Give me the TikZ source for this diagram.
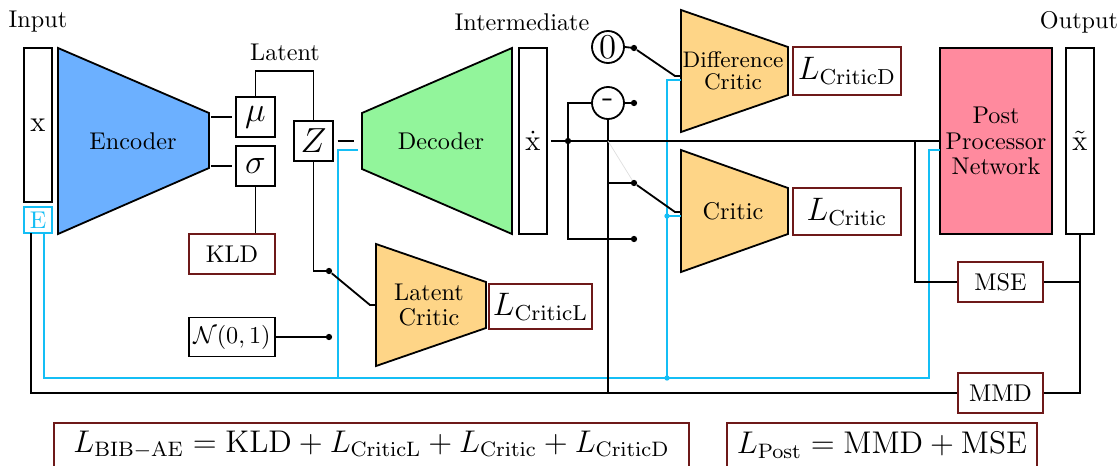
\documentclass[tikz,border=0pt]{standalone}
\usepackage{amsmath}
\usepackage{graphicx}
\definecolor{encblue}{RGB}{108,176,255}
\definecolor{decgreen}{RGB}{146,245,155}
\definecolor{critorange}{RGB}{254,213,135}
\definecolor{postpink}{RGB}{255,138,158}
\definecolor{lossred}{RGB}{110,25,25}
\definecolor{ecyan}{RGB}{20,190,245}
\newcommand\lossL[1]{\scalebox{1.12}{\large $#1$}}
\newcommand\lossF[1]{\scalebox{1.08}{\large $#1$}}
\begin{document}
\begin{tikzpicture}[x=0.4132pt,y=-0.4132pt,line width=0.75pt,
  bw/.style={minimum width={#1*0.4132pt}},
  bh/.style={minimum height={#1*0.4132pt}},
  box/.style={draw=black,line width=0.75pt,inner sep=0pt,fill=white},
  lossbox/.style={draw=lossred,line width=0.75pt,inner sep=0pt,fill=white},
  lbl/.style={inner sep=0pt},
  cy/.style={draw=ecyan,line width=0.7pt},
  trap/.style={draw=black,line width=0.75pt,line join=miter},
  ttxt/.style={align=center,inner sep=0pt,font={\fontsize{10}{10.4}\selectfont}},
  sop/.style={circle,draw=black,line width=0.75pt,inner sep=0pt,minimum size={32*0.4132pt}}]
\useasboundingbox (0,0) rectangle (1120,465);

% labels
\node[lbl] (inp) at (38,22) {Input};
\node[lbl] (lat) at (285,52) {Latent};
\node[lbl] (intm) at (522,22) {Intermediate};
\node[lbl] (outp) at (1079,22) {Output};

% trapezoids
\coordinate (enc1) at (58,48); \coordinate (enc2) at (209,113);
\coordinate (enc3) at (209,168); \coordinate (enc4) at (58,234);
\draw[trap,fill=encblue] (enc1) -- (enc2) -- (enc3) -- (enc4) -- cycle;
\node[ttxt] (enctxt) at (133,141) {Encoder};

\coordinate (dec1) at (362,113); \coordinate (dec2) at (512,48);
\coordinate (dec3) at (512,234); \coordinate (dec4) at (362,169);
\draw[trap,fill=decgreen] (dec1) -- (dec2) -- (dec3) -- (dec4) -- cycle;
\node[ttxt] (dectxt) at (441,141) {Decoder};

\coordinate (lc1) at (376,244); \coordinate (lc2) at (486,282);
\coordinate (lc3) at (486,328); \coordinate (lc4) at (376,366);
\draw[trap,fill=critorange] (lc1) -- (lc2) -- (lc3) -- (lc4) -- cycle;
\node[ttxt] (lctxt) at (429,305) {Latent\\Critic};

\coordinate (dc1) at (681,10); \coordinate (dc2) at (788,47);
\coordinate (dc3) at (788,95); \coordinate (dc4) at (681,132);
\draw[trap,fill=critorange] (dc1) -- (dc2) -- (dc3) -- (dc4) -- cycle;
\node[ttxt,font={\fontsize{9.3}{9}\selectfont}] (dctxt) at (733,71) {Difference\\Critic};

\coordinate (cr1) at (681,150); \coordinate (cr2) at (788,188);
\coordinate (cr3) at (788,234); \coordinate (cr4) at (681,272);
\draw[trap,fill=critorange] (cr1) -- (cr2) -- (cr3) -- (cr4) -- cycle;
\node[ttxt] (crtxt) at (733,211) {Critic};

% boxes
\node[box,bw=28,bh=154] (xin) at (38,125) {\large x};
\node[box,draw=ecyan,text=ecyan,bw=28,bh=26] (E) at (38,220) {E};
\node[box,bw=39,bh=40] (mu) at (255.5,117) {\Large $\mu$};
\node[box,bw=39,bh=40] (sigma) at (255.5,166) {\Large $\sigma$};
\node[box,bw=39,bh=40] (Z) at (313.5,141) {\Large $Z$};
\node[lossbox,bw=86,bh=40] (KLD) at (232,254) {KLD};
\node[box,bw=86,bh=39] (N) at (232,337) {$\mathcal{N}(0,1)$};
\node[lossbox,bw=103,bh=45] (LcL) at (540.5,306.5) {\lossL{L_{\mathrm{CriticL}}}};
\node[box,bw=28,bh=186] (xdot) at (533,141) {\large $\dot{\mathrm{x}}$};
\node[lossbox,bw=108,bh=48] (LcD) at (847,71) {\lossL{L_{\mathrm{CriticD}}}};
\node[lossbox,bw=108,bh=47] (Lc) at (847,211.5) {\lossL{L_{\mathrm{Critic}}}};
\node[box,fill=postpink,bw=112,bh=186,align=center,font={\fontsize{10}{10.4}\selectfont}] (Post) at (996,141) {Post\\Processor\\Network};
\node[box,bw=28,bh=186] (xt) at (1080,141) {\large $\tilde{\mathrm{x}}$};
\node[lossbox,bw=85,bh=40] (MSE) at (1000.5,282) {MSE};
\node[lossbox,bw=85,bh=40] (MMD) at (1000.5,393) {MMD};
\node[lossbox,bw=635,bh=44] (F1) at (371.5,445) {\lossF{L_{\mathrm{BIB-AE}} = \mathrm{KLD} + L_{\mathrm{CriticL}} + L_{\mathrm{Critic}} + L_{\mathrm{CriticD}}}};
\node[lossbox,bw=310,bh=44] (F2) at (882,445) {\lossF{L_{\mathrm{Post}} = \mathrm{MMD} + \mathrm{MSE}}};

% operator circles
\node[sop] (c0) at (608,47) {\Large 0};
\node[sop] (cm) at (608,103) {\Large\raisebox{-1.6pt}{-}};

% coordinates
\coordinate (d0) at (634,48);
\coordinate (dm) at (634,103);
\coordinate (dc) at (634,183);
\coordinate (dx) at (634,239);
\coordinate (dz) at (329,271);
\coordinate (dn) at (329,337);
\coordinate (encmu) at (211,117);
\coordinate (encsig) at (211,166);
\coordinate (latc) at (290,71);
\coordinate (decin) at (358,141);
\coordinate (deccy) at (358,150);
\coordinate (cyA) at (338,378);
\coordinate (Ecy) at (44,233);
\coordinate (Ebk) at (31,233);
\coordinate (cyB) at (929,378);
\coordinate (postcy) at (940,150);
\coordinate (dccy) at (681,80);
\coordinate (cyC) at (667,378);
\coordinate (cyD) at (667,216);
\coordinate (crcy) at (681,216);
\coordinate (jA) at (568,141);
\coordinate (jB) at (608,393);
\coordinate (jC) at (608,183);
\coordinate (jD) at (915,141);
\coordinate (jE) at (1080,282);
\coordinate (jF) at (608,141);
\coordinate (dcbend) at (675,76);
\coordinate (dcin) at (681,76);
\coordinate (crbend) at (675,212);
\coordinate (crin) at (681,212);
\coordinate (lcbend) at (370,305);
\coordinate (lcin) at (376,305);

% cyan connectors
\draw[cy] (deccy) -| (cyA);
\draw[cy] (Ecy) |- (cyB) |- (postcy);
\draw[cy] (dccy) -| (cyC);
\draw[cy] (cyD) -- (crcy);
\fill[ecyan] (cyC) circle (1.1pt);
\fill[ecyan] (cyD) circle (1.1pt);

% black connectors
\draw[shorten >=1.2pt] (encmu) -- (mu.west);
\draw[shorten >=1.2pt] (encsig) -- (sigma.west);
\draw (mu.north) |- (latc) -| (Z.north);
\draw (sigma.south) -- (sigma.south |- KLD.north);
\draw[shorten <=1.5pt,shorten >=1.5pt] (Z.east) -- (decin);
\draw (Z.south) |- (dz);
\draw[shorten <=1.5pt] (dz) -- (lcbend) -- (lcin);
\draw (N.east) -- (dn);
\draw (Ebk) |- (MMD.west);
\draw[shorten <=1.2pt] (xdot.east) -- (Post.west);
\draw (jA) |- (cm.west);
\draw (jA) |- (dx);
\draw (cm.east) -- (dm);
\draw (c0.east) -- (d0);
\draw (cm.south) -- (jB);
\draw (jC) -- (dc);
\draw[gray!25,line width=0.3pt] (jF) -- (dc);
\draw[shorten <=1.5pt] (d0) -- (dcbend) -- (dcin);
\draw[shorten <=1.5pt] (dc) -- (crbend) -- (crin);
\draw (jD) |- (MSE.west);
\draw (MSE.east) -- (jE);
\draw (xt.south) |- (MMD.east);

% dots
\foreach \p in {d0,dm,dc,dx,dz,dn,jA} \fill (\p) circle (1.3pt);
\end{tikzpicture}
\end{document}
